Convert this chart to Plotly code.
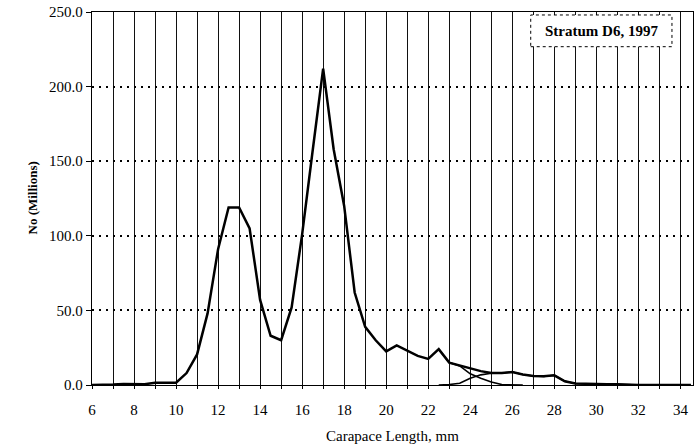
import plotly.graph_objects as go

# Carapace length classes (mm)
length_mm = [6, 6.5, 7, 7.5, 8, 8.5, 9, 9.5, 10, 10.5, 11, 11.5, 12, 12.5, 13, 13.5,
             14, 14.5, 15, 15.5, 16, 16.5, 17, 17.5, 18, 18.5, 19, 19.5, 20, 20.5,
             21, 21.5, 22, 22.5, 23, 23.5, 24, 24.5, 25, 25.5, 26, 26.5, 27, 27.5,
             28, 28.5, 29, 29.5, 30, 30.5, 31, 31.5, 32, 32.5, 33, 33.5, 34, 34.5]

# Total numbers (millions)
total = [0, 0, 0.3, 0.7, 0.7, 0.5, 1.5, 1.5, 1.5, 8, 20.5, 48, 91, 119, 119, 105,
         57, 33, 30, 52, 101, 157, 212, 158, 120, 62, 39, 30, 22.5, 26.5,
         23, 19.5, 17.5, 24, 15, 13, 11, 9.3, 8, 8, 8.7, 7, 6, 5.8,
         6.5, 2.5, 1, 0.7, 0.5, 0.5, 0.5, 0, 0, 0, 0, 0, 0, 0]

# Smaller-size component (tail only shown separately)
comp_small = [None] * 33 + [24, 15, 12.8, 7.5, 4.6, 2.0, 0.3, 0, 0]
comp_small += [None] * (len(length_mm) - len(comp_small))

# Larger-size component
comp_large = [None] * 33 + [0, 0.3, 1.2, 4.5, 6.8, 7.9, 8, 8.7, 7, 6, 5.8,
                            6.5, 2.5, 1, 0.7, 0.5, 0.5, 0.5, 0, 0, 0, 0, 0, 0, 0]

x_ticks = [6, 8, 10, 12, 14, 16, 18, 20, 22, 24, 26, 28, 30, 32, 34]
y_ticks = [0, 50, 100, 150, 200, 250]

SERIF = "Liberation Serif, Times New Roman, serif"

fig = go.Figure()
fig.add_trace(go.Scatter(x=length_mm, y=comp_small, mode="lines",
                         line=dict(color="black", width=1.6), showlegend=False))
fig.add_trace(go.Scatter(x=length_mm, y=comp_large, mode="lines",
                         line=dict(color="black", width=1.6), showlegend=False))
fig.add_trace(go.Scatter(x=length_mm, y=total, mode="lines",
                         line=dict(color="black", width=2.5), showlegend=False))

fig.update_layout(
    width=697, height=448,
    margin=dict(l=92, r=4, t=12, b=63),
    paper_bgcolor="white", plot_bgcolor="white",
    font=dict(family=SERIF, color="black", size=15),
    showlegend=False,
)

fig.update_xaxes(
    range=[6, 34.6], tickvals=x_ticks, ticktext=[str(v) for v in x_ticks],
    showgrid=True, gridcolor="#111", gridwidth=1.3,
    minor=dict(dtick=1, tick0=6, showgrid=True, gridcolor="#111", gridwidth=1.3,
               ticks="outside", ticklen=3, tickcolor="black"),
    ticks="outside", ticklen=3, tickcolor="black",
    ticklabelstandoff=8,
    showline=True, linecolor="black", linewidth=1.3, mirror=True,
    zeroline=False, tickfont=dict(family=SERIF, size=15, color="black"),
)

fig.update_yaxes(
    range=[0, 250], tickvals=y_ticks, tickformat=".1f",
    showgrid=True, gridcolor="black", gridwidth=1.5, griddash="2px,5px",
    ticks="outside", ticklen=5, tickcolor="black",
    showline=True, linecolor="black", linewidth=1.3, mirror=True,
    zeroline=False, tickfont=dict(family=SERIF, size=15, color="black"),
)

# Label box
fig.add_shape(type="rect", xref="paper", yref="paper",
              x0=0.730, x1=0.965, y0=0.907, y1=0.992,
              line=dict(color="black", width=1, dash="dot"),
              fillcolor="white", layer="above")
fig.add_annotation(text="<b>Stratum D6, 1997</b>", xref="paper", yref="paper",
                   x=0.847, y=0.948, showarrow=False, xanchor="center", yanchor="middle",
                   font=dict(family=SERIF, size=15, color="black"))

# Axis titles
fig.add_annotation(text="Carapace Length, mm", xref="paper", yref="paper",
                   x=0.5, y=0, yshift=-51, showarrow=False,
                   xanchor="center", yanchor="middle",
                   font=dict(family=SERIF, size=15, color="black"))
fig.add_annotation(text="<b>No (Millions)</b>", xref="paper", yref="paper",
                   x=0, xshift=-60, y=0.5, showarrow=False, textangle=-90,
                   xanchor="center", yanchor="middle",
                   font=dict(family=SERIF, size=13, color="black"))

fig.write_html("out.html",
               config={"displayModeBar": False},
               post_script="document.body.style.margin='0';document.body.style.padding='0';")
